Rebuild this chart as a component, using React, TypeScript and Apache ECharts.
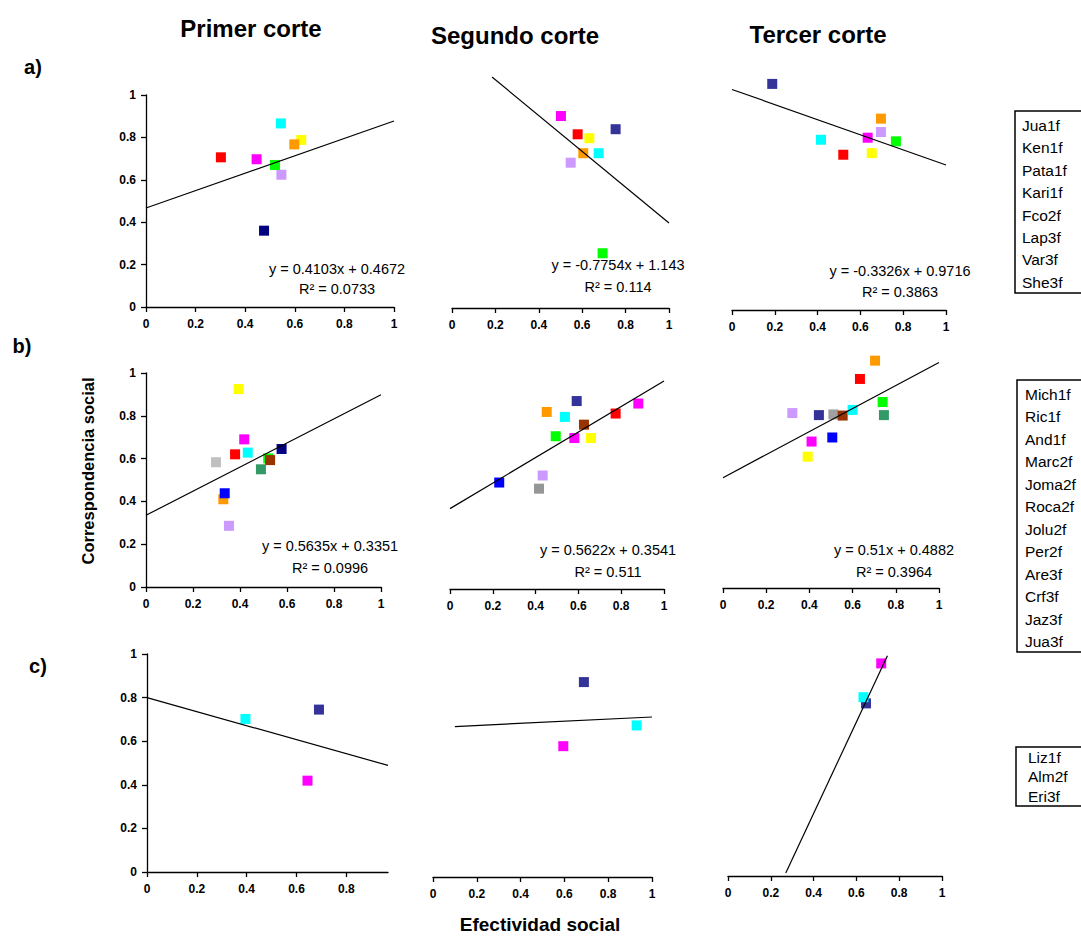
import React, { useEffect, useRef } from "react";
import * as echarts from "echarts";

const FONT = "'Liberation Sans', Arial, Helvetica, sans-serif";

// legend names
const namesA = ["Jua1f", "Ken1f", "Pata1f", "Kari1f", "Fco2f", "Lap3f", "Var3f", "She3f"];
const namesB = ["Mich1f", "Ric1f", "And1f", "Marc2f", "Joma2f", "Roca2f", "Jolu2f", "Per2f", "Are3f", "Crf3f", "Jaz3f", "Jua3f"];
const namesC = ["Liz1f", "Alm2f", "Eri3f"];

const columnTitles = ["Primer corte", "Segundo corte", "Tercer corte"];
const rowTitles = ["a)", "b)", "c)"];
const xTicks = [0, 0.2, 0.4, 0.6, 0.8, 1];
const xTicksC1 = [0, 0.2, 0.4, 0.6, 0.8];

// colours
const RED = "#FF0000", MAG = "#FF00FF", CYAN = "#00FFFF", ORANGE = "#FF9900", YEL = "#FFFF00";
const GREEN = "#00FF00", LAV = "#CC99FF", NAVY = "#000080", SLATE = "#333399", SILVER = "#C0C0C0";
const GRAY = "#969696", BROWN = "#993300", SEA = "#339966", BLUE = "#0000FF";

// a) Primer corte
const a1X = [0.302, 0.446, 0.544, 0.626, 0.598, 0.546, 0.520, 0.476];
const a1Y = [0.706, 0.697, 0.866, 0.788, 0.767, 0.624, 0.670, 0.360];
const a1C = [RED, MAG, CYAN, YEL, ORANGE, LAV, GREEN, NAVY];
// a) Segundo corte
const a2X = [0.502, 0.579, 0.633, 0.754, 0.605, 0.676, 0.547, 0.694];
const a2Y = [0.831, 0.752, 0.735, 0.774, 0.670, 0.670, 0.629, 0.237];
const a2C = [MAG, RED, YEL, SLATE, ORANGE, CYAN, LAV, GREEN];
// a) Tercer corte
const a3X = [0.188, 0.696, 0.696, 0.634, 0.766, 0.416, 0.520, 0.653];
const a3Y = [0.996, 0.843, 0.784, 0.759, 0.743, 0.750, 0.684, 0.691];
const a3C = [SLATE, ORANGE, LAV, MAG, GREEN, CYAN, RED, YEL];

// b) Primer corte
const b1X = [0.394, 0.418, 0.379, 0.433, 0.298, 0.520, 0.528, 0.577, 0.489, 0.329, 0.335, 0.353];
const b1Y = [0.925, 0.690, 0.620, 0.628, 0.583, 0.601, 0.593, 0.645, 0.550, 0.410, 0.438, 0.286];
const b1C = [YEL, MAG, RED, CYAN, SILVER, GREEN, BROWN, NAVY, SEA, ORANGE, BLUE, LAV];
// b) Segundo corte
const b2X = [0.230, 0.416, 0.433, 0.494, 0.581, 0.659, 0.626, 0.537, 0.452, 0.592, 0.774, 0.880];
const b2Y = [0.469, 0.442, 0.500, 0.673, 0.665, 0.665, 0.724, 0.758, 0.780, 0.828, 0.773, 0.817];
const b2C = [BLUE, GRAY, LAV, GREEN, MAG, YEL, BROWN, CYAN, ORANGE, SLATE, RED, MAG];
// b) Tercer corte
const b3X = [0.704, 0.634, 0.739, 0.745, 0.511, 0.554, 0.600, 0.444, 0.321, 0.506, 0.410, 0.392];
const b3Y = [1.006, 0.925, 0.823, 0.765, 0.768, 0.763, 0.788, 0.765, 0.774, 0.666, 0.648, 0.581];
const b3C = [ORANGE, RED, GREEN, SEA, "#A0A0A0", BROWN, CYAN, SLATE, LAV, BLUE, MAG, YEL];

// c) Primer corte
const c1X = [0.395, 0.690, 0.644];
const c1Y = [0.702, 0.745, 0.419];
const c1C = [CYAN, SLATE, MAG];
// c) Segundo corte
const c2X = [0.689, 0.595, 0.930];
const c2Y = [0.882, 0.592, 0.686];
const c2C = [SLATE, MAG, CYAN];
// c) Tercer corte
const c3X = [0.716, 0.645, 0.633];
const c3Y = [0.962, 0.781, 0.809];
const c3C = [MAG, SLATE, CYAN];

// trend lines: slope, intercept, x-range
const trendSlopes = [0.4103, -0.7754, -0.3326, 0.5635, 0.5622, 0.51, -0.3216, 0.048, 2.07];
const trendIntercepts = [0.4672, 1.143, 0.9716, 0.3351, 0.3541, 0.4882, 0.80, 0.676, -0.545];
const trendFrom = [0, 0.1844, 0, 0, 0, 0, 0, 0.1, 0.27];
const trendTo = [1, 1, 1, 1, 1, 1, 0.967, 1, 0.745];

const equations = [
  "y = 0.4103x + 0.4672", "y = -0.7754x + 1.143", "y = -0.3326x + 0.9716",
  "y = 0.5635x + 0.3351", "y = 0.5622x + 0.3541", "y = 0.51x + 0.4882",
];
const rSquared = ["R² = 0.0733", "R² = 0.114", "R² = 0.3863", "R² = 0.0996", "R² = 0.511", "R² = 0.3964"];

const panelX = [a1X, a2X, a3X, b1X, b2X, b3X, c1X, c2X, c3X];
const panelY = [a1Y, a2Y, a3Y, b1Y, b2Y, b3Y, c1Y, c2Y, c3Y];
const panelC = [a1C, a2C, a3C, b1C, b2C, b3C, c1C, c2C, c3C];

const grids = [
  { left: 146, top: 95, width: 248, height: 212 },
  { left: 452, top: 77, width: 217, height: 231 },
  { left: 732, top: 83, width: 214, height: 227 },
  { left: 146, top: 373, width: 235, height: 214 },
  { left: 450, top: 362, width: 214, height: 227 },
  { left: 723, top: 362, width: 216, height: 226 },
  { left: 147, top: 654, width: 241, height: 218 },
  { left: 433, top: 656, width: 219, height: 221 },
  { left: 728, top: 655, width: 214, height: 221 },
];
const showY = [true, false, false, true, false, false, true, false, false];

const eqPos = [
  [337, 269, 289], [618, 265, 287], [900, 271, 292],
  [330, 546, 568], [608, 550, 572], [894, 550, 572],
];

function txt(text: string, x: number, y: number, size: number, bold: boolean, extra: any = {}) {
  return {
    type: "text",
    x,
    y,
    silent: true,
    ...extra,
    style: {
      text,
      fill: "#000",
      fontSize: size,
      fontWeight: bold ? "bold" : "normal",
      fontFamily: FONT,
      align: extra.align || "center",
      verticalAlign: "middle",
      textAlign: extra.align || "center",
      textVerticalAlign: "middle",
    },
  };
}

function buildOption() {
  const xAxis: any[] = [];
  const yAxis: any[] = [];
  const series: any[] = [];
  grids.forEach((_, i) => {
    const isC1 = i === 6;
    xAxis.push({
      type: "value",
      gridIndex: i,
      min: 0,
      max: isC1 ? 0.967 : 1,
      interval: 0.2,
      axisLine: { show: true, onZero: false, lineStyle: { color: "#000", width: 1.3 } },
      axisTick: {
        show: true, length: 5, lineStyle: { color: "#000", width: 1.3 },
        customValues: isC1 ? xTicksC1 : xTicks,
      },
      axisLabel: {
        color: "#000", fontSize: 12, fontWeight: "bold", fontFamily: FONT, margin: 11,
        customValues: isC1 ? xTicksC1 : xTicks,
      },
      splitLine: { show: false },
    });
    yAxis.push({
      type: "value",
      gridIndex: i,
      min: 0,
      max: 1,
      interval: 0.2,
      show: showY[i],
      axisLine: { show: true, lineStyle: { color: "#000", width: 1.3 } },
      axisTick: { show: true, length: 5, lineStyle: { color: "#000", width: 1.3 } },
      axisLabel: { color: "#000", fontSize: 12, fontWeight: "bold", fontFamily: FONT, margin: 10 },
      splitLine: { show: false },
    });
    series.push({
      type: "scatter",
      xAxisIndex: i,
      yAxisIndex: i,
      symbol: "rect",
      symbolSize: 10,
      clip: false,
      silent: true,
      z: 2,
      data: panelX[i].map((x, j) => ({
        value: [x, panelY[i][j]],
        itemStyle: { color: panelC[i][j], opacity: 1 },
      })),
    });
    const m = trendSlopes[i];
    const b = trendIntercepts[i];
    series.push({
      type: "line",
      xAxisIndex: i,
      yAxisIndex: i,
      symbol: "none",
      silent: true,
      z: 3,
      lineStyle: { color: "#000", width: 1.2 },
      data: [
        [trendFrom[i], m * trendFrom[i] + b],
        [trendTo[i], m * trendTo[i] + b],
      ],
    });
  });

  const elements: any[] = [];
  elements.push(txt(columnTitles[0], 251, 28, 24, true));
  elements.push(txt(columnTitles[1], 515, 35, 24, true));
  elements.push(txt(columnTitles[2], 818, 34, 24, true));
  elements.push(txt(rowTitles[0], 33, 67, 20, true));
  elements.push(txt(rowTitles[1], 22, 346, 20, true));
  elements.push(txt(rowTitles[2], 38, 666, 20, true));
  elements.push(txt("Correspondencia social", 88, 471, 16.5, true, { rotation: Math.PI / 2 }));
  elements.push(txt("Efectividad social", 540, 924, 19, true));

  equations.forEach((e, i) => {
    elements.push(txt(e, eqPos[i][0], eqPos[i][1], 14.5, false));
    elements.push(txt(rSquared[i], eqPos[i][0], eqPos[i][2], 14.5, false));
  });

  // legends
  const legends = [
    { names: namesA, x: 1015, y: 111, h: 182, tx: 1022, ty: 125.5, gap: 22.4 },
    { names: namesB, x: 1017, y: 380, h: 272, tx: 1025, ty: 394, gap: 22.5 },
    { names: namesC, x: 1016, y: 747, h: 59, tx: 1028, ty: 757, gap: 19.5 },
  ];
  legends.forEach((lg) => {
    elements.push({
      type: "rect",
      silent: true,
      shape: { x: lg.x, y: lg.y, width: 100, height: lg.h },
      style: { fill: "#fff", stroke: "#000", lineWidth: 1.5 },
    });
    lg.names.forEach((n, k) => {
      elements.push(txt(n, lg.tx, lg.ty + k * lg.gap, 15.5, false, { align: "left" }));
    });
  });

  return {
    animation: false,
    backgroundColor: "#fff",
    grid: grids.map((g) => ({ ...g, containLabel: false })),
    xAxis,
    yAxis,
    series,
    graphic: { elements },
  };
}

export default function App() {
  const ref = useRef<HTMLDivElement>(null);
  useEffect(() => {
    if (!ref.current) return;
    const chart = echarts.init(ref.current, undefined, { renderer: "svg" });
    chart.setOption(buildOption() as any);
    return () => chart.dispose();
  }, []);
  return (
    <div
      ref={ref}
      style={{ position: "absolute", left: 0, top: 0, width: 1081, height: 936, background: "#fff" }}
    />
  );
}
